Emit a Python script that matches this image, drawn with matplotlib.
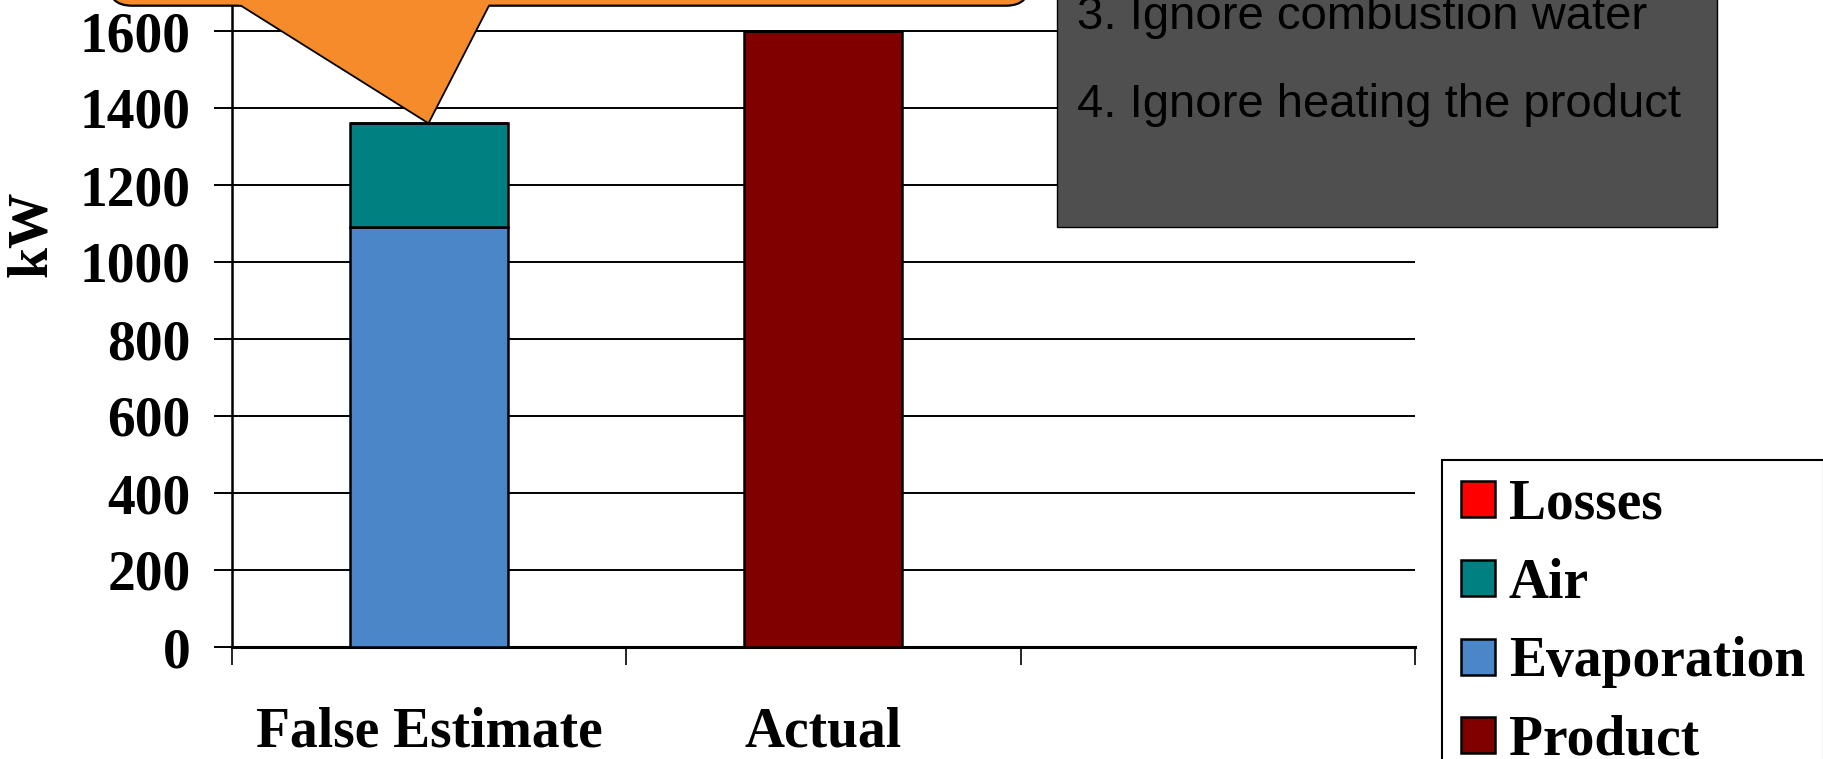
import matplotlib
matplotlib.use("Agg")
from matplotlib import pyplot as plt
from matplotlib.patches import FancyBboxPatch, Rectangle, Polygon
from matplotlib.lines import Line2D

# data
categories = ["False Estimate", "Actual"]
product = [0, 1600]
evaporation = [1090, 0]
air = [270, 0]
losses = [0, 0]
y_ticks = [0, 200, 400, 600, 800, 1000, 1200, 1400, 1600]
notes = ["3. Ignore combustion water", "4. Ignore heating the product"]

W, H = 1824, 759
fig = plt.figure(figsize=(W / 100, H / 100), dpi=100)

serif = ["Liberation Serif", "DejaVu Serif"]
sans = ["Liberation Sans", "DejaVu Sans"]

# main axes, placed in pixel terms (top runs off the picture)
x0, x1 = 231.7, 1415
y_zero, px_per_unit = 647, 77.0 / 200
ymax = 1800
top = y_zero - ymax * px_per_unit
ax = fig.add_axes([x0 / W, (H - y_zero) / H, (x1 - x0) / W, (y_zero - top) / H])

xs = list(range(len(categories)))
bottom = [0, 0]
bars = {}
for name, vals, col in [("Product", product, "#800000"),
                        ("Evaporation", evaporation, "#4A86C8"),
                        ("Air", air, "#008080"),
                        ("Losses", losses, "#FF0000")]:
    bars[name] = ax.bar(xs, vals, 0.4, bottom=bottom, color=col,
                        edgecolor="black", linewidth=1.8, zorder=3)
    bottom = [b + v for b, v in zip(bottom, vals)]

ax.set_xlim(-0.5, 2.5)
ax.set_ylim(0, ymax)
ax.set_yticks(y_ticks)
ax.set_yticklabels([str(t) for t in y_ticks], fontsize=40, fontweight="bold", family=serif)
ax.yaxis.grid(True, color="black", linewidth=1.4, zorder=0)
ax.set_axisbelow(True)

ax.set_xticks([-0.5, 0.5, 1.5, 2.5])
ax.set_xticklabels([])
ax.set_xticks(xs, minor=True)
ax.set_xticklabels(categories, minor=True, fontsize=40, fontweight="bold", family=serif)
ax.tick_params(axis="x", which="minor", length=0, pad=43)
ax.tick_params(axis="x", which="major", length=12.7, width=1.2)
ax.tick_params(axis="y", length=12.7, width=1.4, pad=16.8)

for s in ["top", "right"]:
    ax.spines[s].set_visible(False)
ax.spines["left"].set_linewidth(1.8)
ax.spines["bottom"].set_linewidth(2.2)

fig.text(32 / W, 1 - 234 / H, "kW", rotation=90, ha="center", va="center",
         fontsize=40, fontweight="bold", family=serif)

# legend
order = ["Losses", "Air", "Evaporation", "Product"]
leg = fig.legend([bars[n] for n in order], order, loc="upper left",
                 bbox_to_anchor=(1441.7 / W, 1 - 460 / H), borderaxespad=0,
                 fancybox=False, edgecolor="black", framealpha=1,
                 prop={"family": serif, "weight": "bold", "size": 40},
                 handlelength=0.62, handleheight=0.62, handletextpad=0.25,
                 borderpad=0.34, labelspacing=0.48)
leg.get_frame().set_linewidth(1.5)

# overlay for the callout and the note box, in pixel coordinates
ov = fig.add_axes([0, 0, 1, 1], zorder=3)
ov.set_xlim(0, W)
ov.set_ylim(H, 0)
ov.axis("off")

orange = "#F68B2C"
ov.add_patch(FancyBboxPatch((108, -100), 1030 - 108, 105.7,
                            boxstyle="round,pad=0,rounding_size=24",
                            facecolor=orange, edgecolor="black", linewidth=1.6))
ov.add_patch(Polygon([(225.5, -4), (428.5, 123.3), (494, -4)], closed=True,
                     facecolor=orange, edgecolor="none"))
ov.add_line(Line2D([241, 428.5, 489], [5.7, 123.3, 5.7], color="black", linewidth=1.3))

ov.add_patch(Rectangle((1057.5, -10), 660, 236.7, facecolor="#4F4F4F",
                       edgecolor="black", linewidth=1.0))
ov.text(1077.5, 29.3, notes[0], fontsize=34, family=sans, color="black", va="baseline")
ov.text(1077.5, 116.7, notes[1], fontsize=34, family=sans, color="black", va="baseline")

fig.savefig("out.png", dpi=100)
